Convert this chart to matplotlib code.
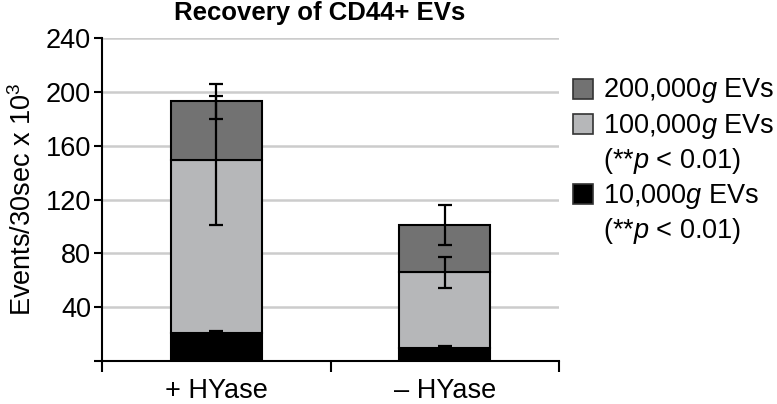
import matplotlib
matplotlib.use("Agg")
import matplotlib.pyplot as plt
from matplotlib.patches import Rectangle
import numpy as np

plt.rcParams['font.family'] = ['Liberation Sans', 'DejaVu Sans']
plt.rcParams['mathtext.fontset'] = 'custom'
plt.rcParams['mathtext.rm'] = 'Liberation Sans'
plt.rcParams['mathtext.it'] = 'Liberation Sans:italic'
plt.rcParams['mathtext.bf'] = 'Liberation Sans:bold'

categories = ['+ HYase', '– HYase']
g10 = [21, 10]
g100 = [128, 56]
g200 = [44, 35]
err10 = [1, 1]
err100 = [48, 11.5]
err200 = [13, 15]
yticks = [40, 80, 120, 160, 200, 240]
legend_labels = ['200,000$\\it{g}$ EVs', '100,000$\\it{g}$ EVs\n(**$\\it{p}$ < 0.01)',
                 '10,000$\\it{g}$ EVs\n(**$\\it{p}$ < 0.01)']
colors = ['#727272', '#b6b7b9', '#000000']

W, H = 777, 404
fig = plt.figure(figsize=(W / 100, H / 100), dpi=100)
ax = fig.add_axes([102 / W, 1 - 361 / H, (559 - 102) / W, (361 - 38) / H])

x = np.arange(len(categories))
bw = 0.4
b10 = np.array(g10, float)
b100 = np.array(g100, float)
b200 = np.array(g200, float)
ax.bar(x, b10, bw, color=colors[2], edgecolor='black', linewidth=1.5, zorder=2)
ax.bar(x, b100, bw, bottom=b10, color=colors[1], edgecolor='black', linewidth=1.5, zorder=2)
ax.bar(x, b200, bw, bottom=b10 + b100, color=colors[0], edgecolor='black', linewidth=1.5, zorder=2)

ekw = dict(fmt='none', ecolor='black', elinewidth=1.6, capsize=5, capthick=1.6, zorder=3)
ax.errorbar(x, b10, yerr=err10, **ekw)
ax.errorbar(x, b10 + b100, yerr=err100, **ekw)
ax.errorbar(x, b10 + b100 + b200, yerr=err200, **ekw)

ax.set_xlim(-0.5, 1.5)
ax.set_ylim(0, 240)
ax.set_yticks([0] + yticks)
ax.set_yticklabels([''] + [str(v) for v in yticks], fontsize=19.5)
ax.yaxis.grid(True, color='#cccccc', linewidth=1.8, zorder=0)
ax.set_axisbelow(True)
ax.set_xticks([-0.5, 0.5, 1.5])
ax.set_xticklabels([])
ax.set_xticks(x, minor=True)
ax.set_xticklabels(categories, minor=True, fontsize=19.5)
ax.tick_params(axis='x', which='minor', length=0, pad=12)
ax.tick_params(axis='x', which='major', length=8, width=1.5, direction='out')
ax.tick_params(axis='y', length=6, width=1.5, direction='out', pad=2)
for s in ['top', 'right']:
    ax.spines[s].set_visible(False)
for s in ['left', 'bottom']:
    ax.spines[s].set_linewidth(1.5)

ax.set_ylabel('Events/30sec x 10$^3$', fontsize=19.5, labelpad=6)
fig.text(320 / W, 1 - 20 / H, 'Recovery of CD44+ EVs', fontsize=18.5, fontweight='bold',
         ha='center', va='baseline')

# legend drawn manually to align boxes with first text line
patch_tops = [79, 114, 184]
text_baselines = [97, 133, 203]
for lab, col, pt, tb in zip(legend_labels, colors, patch_tops, text_baselines):
    fig.patches.append(Rectangle((573 / W, 1 - (pt + 20) / H), 20 / W, 20 / H,
                                 transform=fig.transFigure, facecolor=col,
                                 edgecolor='#333333', linewidth=1.2))
    lines = lab.split('\n')
    for i, ln in enumerate(lines):
        fig.text(603 / W, 1 - (tb + 35 * i) / H, ln, fontsize=19.5, ha='left', va='baseline')

fig.savefig('out.png', dpi=100)
